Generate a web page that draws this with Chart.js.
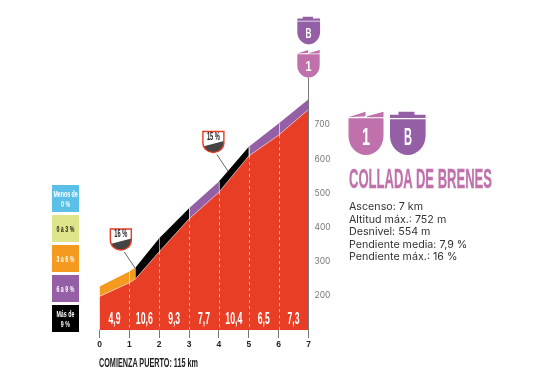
<!DOCTYPE html>
<html lang="es">
<head>
<meta charset="utf-8">
<title>Collada de Brenes</title>
<script src="https://cdn.jsdelivr.net/npm/chart.js@4"></script>
<style>
  html, body { margin: 0; background: #fff; }
  #stage { position: relative; width: 533px; height: 372px; overflow: hidden; }
  #profile { position: absolute; left: 0; top: 0; }
  #overlay { position: absolute; left: 0; top: 0; }
  .narrow { font-family: "Liberation Sans", sans-serif; font-weight: 700; }
  #facts { position: absolute; left: 349px; top: 201px; font: 10.7px/12.5px Inter, sans-serif; color: #333; white-space: nowrap; }
  .key { position: absolute; left: 52px; width: 27px; height: 27px; display: flex; align-items: center; justify-content: center; }
  .key span { display: block; text-align: center; white-space: nowrap; font: 700 8.5px/10px "Liberation Sans", sans-serif; transform: scaleX(0.62); }
</style>
</head>
<body>
<div id="stage">
  <canvas id="profile" width="533" height="372"></canvas>
  <svg id="overlay" width="533" height="372" viewBox="0 0 533 372">
    <defs>
      <g id="badgeCat">
        <path d="M0 5.6L17 0V4.6L0 5.6ZM18.5 4.6L35 0V5.6H18.5Z" fill="#c071ab"/>
        <path d="M0 6.6H35V24C35 35 27 43.3 17.5 43.3C8 43.3 0 35 0 24Z" fill="#c071ab"/>
      </g>
      <g id="badgeB">
        <path d="M8.5 0H24.5V3H35.6V6.4H0V3H8.5Z" fill="#955fa5"/>
        <path d="M0 7.6H35.6V24C35.6 35 27 43.3 17.8 43.3C8.6 43.3 0 35 0 24Z" fill="#955fa5"/>
      </g>
    </defs>
    <use href="#badgeB" transform="translate(297.3 16.7) scale(.64)"/>
    <text class="narrow" x="305.6" y="38" font-size="14" fill="#fff" textLength="6" lengthAdjust="spacingAndGlyphs">B</text>
    <use href="#badgeCat" transform="translate(297.3 50) scale(.64)"/>
    <text class="narrow" x="305.6" y="71" font-size="14" fill="#fff" textLength="6" lengthAdjust="spacingAndGlyphs">1</text>
    <use href="#badgeCat" transform="translate(348.5 111.7)"/>
    <text class="narrow" x="362" y="145" font-size="24" fill="#fff" textLength="8" lengthAdjust="spacingAndGlyphs">1</text>
    <use href="#badgeB" transform="translate(390 111.7)"/>
    <text class="narrow" x="404" y="145" font-size="24" fill="#fff" textLength="8" lengthAdjust="spacingAndGlyphs">B</text>
    <text class="narrow" x="349" y="188" font-size="28" fill="#c071ab" stroke="#c071ab" stroke-width="0.3" textLength="143" lengthAdjust="spacingAndGlyphs">COLLADA DE BRENES</text>
    <text class="narrow" x="99" y="366.5" font-size="12.5" fill="#222" textLength="99" lengthAdjust="spacingAndGlyphs">COMIENZA PUERTO: 115 km</text>
  </svg>
  <div id="facts"></div>
  <div id="keys"></div>
</div>
<script>
// perfil del puerto, km / altitud
const profileKm = [0, 1, 1.2, 2, 3, 4, 4.3, 5, 6, 7];
const profileAlt = [198, 238, 249, 329, 425, 503, 535, 609, 670, 745];

// franja de color encima del perfil
const bandKm = [0, 1, 1.2, 2, 3, 4, 5, 6, 7];
const bandTop = [227, 271, 282, 368, 456, 534, 636, 704, 775];
const bandColors = ["#f39a1f", "#f39a1f", "#000000", "#000000", "#955fa5", "#000000", "#955fa5", "#955fa5"];

const kmTicks = [0, 1, 2, 3, 4, 5, 6, 7];
const altTicks = [200, 300, 400, 500, 600, 700];
const kmGradients = ["4,9", "10,6", "9,3", "7,7", "10,4", "6,5", "7,3"];

const slopeKm = [1.2, 4.3];
const slopeAlt = [280, 565];
const slopeLabels = ["16 %", "15 %"];

const legendLabels = ["Menos de<br>0 %", "0 a 3 %", "3 a 6 %", "6 a 9 %", "Más de<br>9 %"];
const legendColors = ["#5bc0e8", "#dfe58a", "#f39a1f", "#955fa5", "#000000"];
const legendText = ["#fff", "#222", "#fff", "#fff", "#fff"];

const factLines = ["Ascenso: 7 km", "Altitud máx.: 752 m", "Desnivel: 554 m", "Pendiente media: 7,9 %", "Pendiente máx.: 16 %"];

document.getElementById("facts").innerHTML = factLines.join("<br>");
document.getElementById("keys").innerHTML = legendLabels.map((label, i) =>
    `<div class="key" style="top:${185 + i * 30}px;background:${legendColors[i]};color:${legendText[i]}"><span>${label}</span></div>`
).join("");

const NARROW = '"Liberation Sans", sans-serif';

function toPoints(xs, ys) {
    return xs.map((x, i) => ({ x, y: ys[i] }));
}

function altAt(xs, ys, km) {
    const i = xs.findIndex((x) => x >= km);
    if (xs[i] === km) return ys[i];
    return ys[i - 1] + ((ys[i] - ys[i - 1]) * (km - xs[i - 1])) / (xs[i] - xs[i - 1]);
}

// separadores de cada km y pendientes dentro del perfil
const kmDividers = {
    id: "kmDividers",
    afterDatasetsDraw(chart) {
        const { ctx, scales: { x, y } } = chart;
        ctx.save();
        ctx.strokeStyle = "rgba(255,255,255,0.6)";
        ctx.lineWidth = 1;
        kmTicks.slice(1, -1).forEach((km) => {
            const px = Math.round(x.getPixelForValue(km)) + 0.5;
            ctx.setLineDash([]);
            ctx.beginPath();
            ctx.moveTo(px, y.getPixelForValue(altAt(bandKm, bandTop, km)));
            ctx.lineTo(px, y.getPixelForValue(altAt(profileKm, profileAlt, km)));
            ctx.stroke();
            ctx.setLineDash([3, 3]);
            ctx.beginPath();
            ctx.moveTo(px, y.getPixelForValue(altAt(profileKm, profileAlt, km)));
            ctx.lineTo(px, y.bottom);
            ctx.stroke();
        });
        ctx.setLineDash([]);
        ctx.fillStyle = "#fff";
        ctx.font = `700 16px ${NARROW}`;
        ctx.textAlign = "center";
        ctx.textBaseline = "middle";
        kmGradients.forEach((label, i) => {
            ctx.fillText(label, x.getPixelForValue(i + 0.5), 320, label.length > 3 ? 17 : 12);
        });
        ctx.restore();
    },
};

// globos de pendiente maxima
const slopeBadges = {
    id: "slopeBadges",
    afterDatasetsDraw(chart) {
        const { ctx, scales: { x, y } } = chart;
        slopeKm.forEach((km, i) => {
            const ax = x.getPixelForValue(km);
            const ay = y.getPixelForValue(slopeAlt[i]);
            const left = ax - 25;
            const top = ay - 39.5;
            const shield = new Path2D();
            shield.moveTo(left, top);
            shield.lineTo(left + 21, top);
            shield.lineTo(left + 21, top + 11);
            shield.bezierCurveTo(left + 21, top + 17, left + 16, top + 21, left + 10.5, top + 21);
            shield.bezierCurveTo(left + 5, top + 21, left, top + 17, left, top + 11);
            shield.closePath();

            ctx.save();
            ctx.strokeStyle = "#666";
            ctx.lineWidth = 1;
            ctx.beginPath();
            ctx.moveTo(left + 14, top + 23);
            ctx.lineTo(ax, ay);
            ctx.stroke();

            ctx.fillStyle = "#fff";
            ctx.fill(shield);
            ctx.save();
            ctx.clip(shield);
            ctx.fillStyle = "#444";
            ctx.beginPath();
            ctx.moveTo(left, top + 15);
            ctx.lineTo(left + 21, top + 9.5);
            ctx.lineTo(left + 21, top + 22);
            ctx.lineTo(left, top + 22);
            ctx.closePath();
            ctx.fill();
            ctx.restore();
            ctx.strokeStyle = "#e53d25";
            ctx.lineWidth = 1.4;
            ctx.stroke(shield);

            ctx.fillStyle = "#222";
            ctx.font = `700 10px ${NARROW}`;
            ctx.textAlign = "center";
            ctx.textBaseline = "middle";
            ctx.fillText(slopeLabels[i], left + 10.5, top + 5.5, 13);
            ctx.restore();
        });
    },
};

new Chart(document.getElementById("profile"), {
    type: "line",
    data: {
        datasets: [
            {
                label: "Perfil",
                data: toPoints(profileKm, profileAlt),
                borderColor: "rgba(255,255,255,0.6)",
                borderWidth: 1,
                backgroundColor: "#e83e25",
                fill: "origin",
                pointRadius: 0,
                tension: 0,
            },
            {
                label: "Pendiente",
                data: toPoints(bandKm, bandTop),
                borderWidth: 0,
                borderColor: "transparent",
                backgroundColor: bandColors[0],
                fill: "origin",
                pointRadius: 0,
                tension: 0,
                segment: {
                    backgroundColor: (ctx) => bandColors[ctx.p0DataIndex],
                },
            },
        ],
    },
    options: {
        responsive: false,
        animation: false,
        layout: { padding: { left: 99.5, top: 78, right: 0, bottom: 0 } },
        plugins: {
            legend: { display: false },
            tooltip: { enabled: false },
        },
        scales: {
            x: {
                type: "linear",
                min: 0,
                max: 7,
                afterBuildTicks: (scale) => {
                    scale.ticks = kmTicks.map((value) => ({ value }));
                },
                afterFit: (scale) => {
                    scale.height = 42;
                    scale.paddingLeft = 0;
                    scale.paddingRight = 0;
                },
                grid: { drawOnChartArea: false, tickLength: 8, color: "#777", lineWidth: 1 },
                border: { display: false },
                ticks: {
                    maxRotation: 0,
                    padding: 2,
                    color: "#222",
                    font: { family: NARROW, weight: "700", size: 8.5 },
                },
            },
            y: {
                position: "right",
                min: 100,
                max: 837,
                afterBuildTicks: (scale) => {
                    scale.ticks = altTicks.map((value) => ({ value }));
                },
                afterFit: (scale) => {
                    scale.width = 224.5;
                    scale.paddingTop = 0;
                    scale.paddingBottom = 0;
                },
                grid: { display: false, drawTicks: false },
                border: { color: "#777", width: 1, z: 1 },
                ticks: {
                    padding: 6,
                    color: "#777",
                    font: { family: "Inter, sans-serif", size: 8.5 },
                },
            },
        },
    },
    plugins: [kmDividers, slopeBadges],
});
</script>
</body>
</html>
